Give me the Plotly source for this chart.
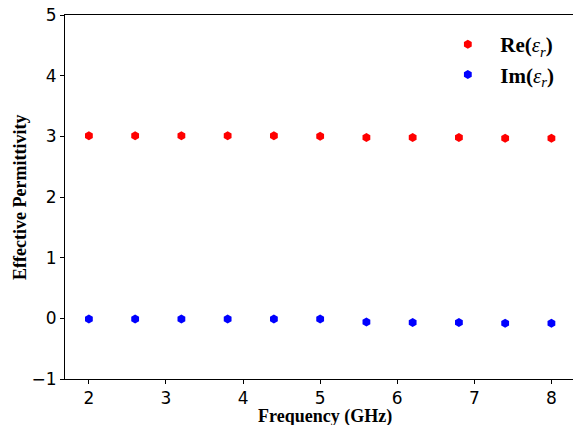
import plotly.graph_objects as go

freq = [2.0, 2.6, 3.2, 3.8, 4.4, 5.0, 5.6, 6.2, 6.8, 7.4, 8.0]
re_eps = [3.01, 3.01, 3.01, 3.01, 3.01, 3.00, 2.98, 2.98, 2.98, 2.97, 2.97]
im_eps = [-0.01, -0.01, -0.01, -0.01, -0.01, -0.01, -0.06, -0.07, -0.07, -0.08, -0.08]
x_title = "Frequency (GHz)"
y_title = "Effective Permittivity"

fig = go.Figure()
fig.add_trace(go.Scatter(x=freq, y=re_eps, mode="markers", name="<b>Re(</b><i>ε<sub>r</sub></i><b>)</b>",
                         marker=dict(symbol="hexagon", size=9, color="#ff0000", line=dict(width=0))))
fig.add_trace(go.Scatter(x=freq, y=im_eps, mode="markers", name="<b>Im(</b><i>ε<sub>r</sub></i><b>)</b>",
                         marker=dict(symbol="hexagon", size=9, color="#0000ff", line=dict(width=0))))

fig.update_layout(
    width=573, height=425,
    margin=dict(l=65, r=0, t=15, b=46),
    plot_bgcolor="white", paper_bgcolor="white",
    showlegend=True,
    legend=dict(x=0.729, y=0.975, xanchor="left", yanchor="top",
                font=dict(family="Liberation Serif", size=21, color="black"),
                bgcolor="rgba(0,0,0,0)", itemsizing="trace", itemwidth=55),
    xaxis=dict(range=[1.69, 8.28], tickvals=[2, 3, 4, 5, 6, 7, 8], showgrid=False, zeroline=False,
               showline=True, linecolor="black", linewidth=1, mirror=True, automargin=False,
               ticks="outside", ticklen=4, tickcolor="black",
               tickfont=dict(family="DejaVu Sans", size=17, color="black")),
    yaxis=dict(range=[-1, 5], tickvals=[-1, 0, 1, 2, 3, 4, 5], ticktext=["−1", "0", "1", "2", "3", "4", "5"],
               showgrid=False, zeroline=False, automargin=False,
               showline=True, linecolor="black", linewidth=1, mirror=True,
               ticks="outside", ticklen=4, tickcolor="black",
               tickfont=dict(family="DejaVu Sans", size=17, color="black")),
    annotations=[
        dict(text="<b>" + x_title + "</b>", xref="paper", yref="paper", x=0.512, y=-0.102,
             xanchor="center", yanchor="middle", showarrow=False,
             font=dict(family="Liberation Serif", size=18, color="black")),
        dict(text="<b>" + y_title + "</b>", xref="paper", yref="paper", x=-0.0886, y=0.5,
             xanchor="center", yanchor="middle", textangle=-90, showarrow=False,
             font=dict(family="Liberation Serif", size=18, color="black")),
    ],
)

fig.write_html("out.html", config={"displayModeBar": False},
               post_script="document.body.style.margin='0';document.body.style.overflow='hidden';")
